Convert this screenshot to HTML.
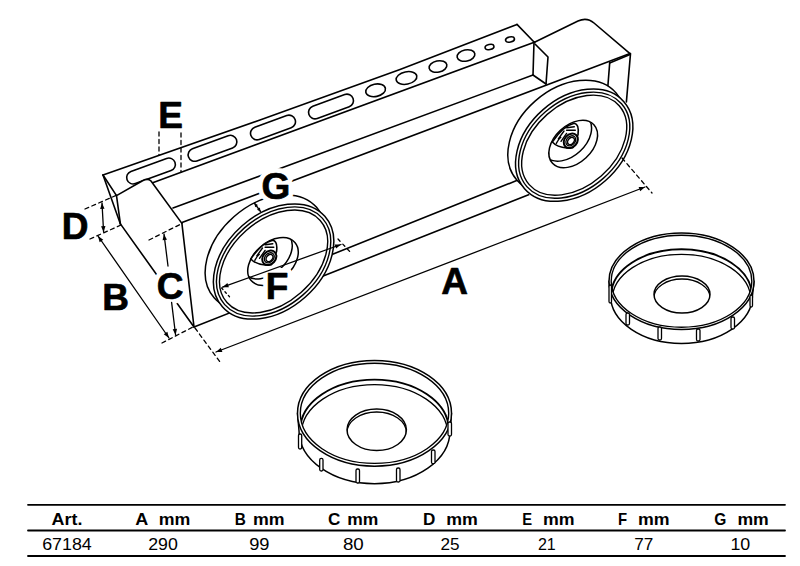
<!DOCTYPE html>
<html><head><meta charset="utf-8"><style>
html,body{margin:0;padding:0;background:#fff;width:800px;height:566px;overflow:hidden}
svg{display:block}
.big{font-family:"Liberation Sans",sans-serif;font-weight:bold;font-size:37px}
.th{font-family:"Liberation Sans",sans-serif;font-weight:bold;font-size:17px}
.td{font-family:"Liberation Sans",sans-serif;font-size:17px}
</style></head><body>
<svg width="800" height="566" viewBox="0 0 800 566" stroke="#000" fill="none" stroke-linecap="round" stroke-linejoin="round">
<rect x="0" y="0" width="800" height="566" fill="#fff" stroke="none"/>
<polyline points="103,175 260,120 400,69.5 517,24.5" stroke-width="1.6" fill="none"/>
<line x1="152" y1="183" x2="535" y2="42" stroke-width="1.6"/>
<line x1="517" y1="24.4" x2="534" y2="42" stroke-width="1.6"/>
<line x1="534" y1="42" x2="533" y2="75" stroke-width="1.6"/>
<line x1="173" y1="208" x2="533" y2="75" stroke-width="1.6"/>
<line x1="533" y1="75" x2="546" y2="84" stroke-width="1.6"/>
<polyline points="535,44 548,57 546,84" stroke-width="1.6" fill="none"/>
<rect x="125.5" y="164.5" width="51" height="13" rx="6.5" ry="6.5" transform="rotate(-20 151 171)" stroke-width="1.6" fill="none"/>
<rect x="187.0" y="141.8" width="51" height="13" rx="6.5" ry="6.5" transform="rotate(-20 212.5 148.3)" stroke-width="1.6" fill="none"/>
<rect x="249.5" y="121.0" width="47" height="13" rx="6.5" ry="6.5" transform="rotate(-20 273 127.5)" stroke-width="1.6" fill="none"/>
<rect x="307.5" y="100.0" width="47" height="13" rx="6.5" ry="6.5" transform="rotate(-20 331 106.5)" stroke-width="1.6" fill="none"/>
<ellipse cx="375.6" cy="90.3" rx="10" ry="6.2" transform="rotate(-12 375.6 90.3)" stroke-width="1.6" fill="none"/>
<ellipse cx="406.5" cy="78" rx="10.5" ry="6.2" transform="rotate(-12 406.5 78)" stroke-width="1.6" fill="none"/>
<ellipse cx="438" cy="66.5" rx="9" ry="5.6" transform="rotate(-12 438 66.5)" stroke-width="1.6" fill="none"/>
<ellipse cx="466" cy="55.5" rx="9" ry="5.6" transform="rotate(-12 466 55.5)" stroke-width="1.6" fill="none"/>
<ellipse cx="489.5" cy="47" rx="4.5" ry="2.6" transform="rotate(-12 489.5 47)" stroke-width="1.6" fill="none"/>
<ellipse cx="510" cy="39.5" rx="4.5" ry="2.6" transform="rotate(-12 510 39.5)" stroke-width="1.6" fill="none"/>
<line x1="103" y1="175" x2="120.4" y2="223.9" stroke-width="1.6"/>
<line x1="103" y1="175" x2="116.5" y2="195.6" stroke-width="1.6"/>
<line x1="116.5" y1="195.6" x2="120.4" y2="223.9" stroke-width="1.6"/>
<path d="M116.5,195.6 L143,180.5 Q148,178 151,181 L181.9,223.4" stroke-width="1.6" fill="#fff"/>
<line x1="181.9" y1="223.4" x2="194" y2="327" stroke-width="1.6"/>
<line x1="120.4" y1="223.9" x2="194" y2="327" stroke-width="1.6"/>
<line x1="182" y1="222.5" x2="630" y2="53.6" stroke-width="1.6"/>
<line x1="194" y1="327" x2="528.6" y2="194.8" stroke-width="1.6"/>
<line x1="320" y1="259.3" x2="517.3" y2="180.3" stroke-width="1.6"/>
<path d="M535,42 L578,21 Q587,17 594,23 L630,53.6" stroke-width="1.6" fill="none"/>
<line x1="630" y1="54.6" x2="609.7" y2="62.9" stroke-width="1.6"/>
<line x1="609.7" y1="62.9" x2="607.8" y2="87" stroke-width="1.6"/>
<line x1="630.5" y1="53.6" x2="626.4" y2="101.9" stroke-width="1.6"/>
<ellipse cx="265.35" cy="252.5" rx="68.3" ry="47.6" transform="rotate(-41.4 265.35 252.5)" stroke-width="1.5" fill="#fff"/>
<ellipse cx="273.6" cy="261.5" rx="68.3" ry="47.6" transform="rotate(-41.4 273.6 261.5)" stroke-width="1.5" fill="#fff"/>
<ellipse cx="273.6" cy="261.5" rx="65.2" ry="44.5" transform="rotate(-41.4 273.6 261.5)" stroke-width="1.4" fill="none"/>
<ellipse cx="273.6" cy="261.5" rx="62.099999999999994" ry="41.4" transform="rotate(-41.4 273.6 261.5)" stroke-width="1.4" fill="none"/>
<ellipse cx="566.45" cy="136.45" rx="66" ry="47.2" transform="rotate(-41.2 566.45 136.45)" stroke-width="1.5" fill="#fff"/>
<ellipse cx="574.2" cy="145.2" rx="66" ry="47.2" transform="rotate(-41.2 574.2 145.2)" stroke-width="1.5" fill="#fff"/>
<ellipse cx="574.2" cy="145.2" rx="62.9" ry="44.1" transform="rotate(-41.2 574.2 145.2)" stroke-width="1.4" fill="none"/>
<ellipse cx="574.2" cy="145.2" rx="59.8" ry="41.0" transform="rotate(-41.2 574.2 145.2)" stroke-width="1.4" fill="none"/>
<clipPath id="hc1"><ellipse cx="273" cy="261.5" rx="29" ry="19.2" transform="rotate(-41 273 261.5)"/></clipPath>
<ellipse cx="273" cy="261.5" rx="29" ry="19.2" transform="rotate(-41 273 261.5)" stroke-width="1.5" fill="none"/>
<g clip-path="url(#hc1)">
<ellipse cx="267" cy="255.0" rx="29" ry="19.2" transform="rotate(-41 267 255.0)" stroke-width="1.5" fill="none"/>
</g>
<path d="M250.80,259.00 C256.30,250.80 263.30,242.30 272.80,240.20 C276.30,240.80 277.30,245.80 276.50,251.80 L271.30,264.80 L265.30,265.00 C260.30,264.60 254.30,262.80 250.80,259.00 Z" stroke-width="1.6" fill="#fff"/>
<path d="M256.80,255.80 L262.50,248.00 M259.50,258.30 L265.10,250.40 M265.30,244.80 L272.80,243.80 M265.10,247.30 L273.80,247.30 M254.80,260.30 Q257.30,255.80 259.30,254.30" stroke-width="1.4"/>
<ellipse cx="269.3" cy="257.8" rx="7.9" ry="6.3" transform="rotate(-48 269.3 257.8)" stroke-width="2.0" fill="#fff"/>
<ellipse cx="269.3" cy="257.8" rx="5.6" ry="4.3" transform="rotate(-48 269.3 257.8)" stroke-width="1.3" fill="none"/>
<ellipse cx="269.5" cy="258.0" rx="4.0" ry="2.9" transform="rotate(-48 269.5 258.0)" stroke-width="1.5" fill="none"/>
<clipPath id="hc2"><ellipse cx="573.2" cy="144" rx="28.3" ry="18.8" transform="rotate(-43 573.2 144)"/></clipPath>
<ellipse cx="573.2" cy="144" rx="28.3" ry="18.8" transform="rotate(-43 573.2 144)" stroke-width="1.5" fill="none"/>
<g clip-path="url(#hc2)">
<ellipse cx="567.2" cy="137.5" rx="28.3" ry="18.8" transform="rotate(-43 567.2 137.5)" stroke-width="1.5" fill="none"/>
</g>
<path d="M552.30,142.00 C557.80,133.80 564.80,125.30 574.30,123.20 C577.80,123.80 578.80,128.80 578.00,134.80 L572.80,147.80 L566.80,148.00 C561.80,147.60 555.80,145.80 552.30,142.00 Z" stroke-width="1.6" fill="#fff"/>
<path d="M558.30,138.80 L564.00,131.00 M561.00,141.30 L566.60,133.40 M566.80,127.80 L574.30,126.80 M566.60,130.30 L575.30,130.30 M556.30,143.30 Q558.80,138.80 560.80,137.30" stroke-width="1.4"/>
<ellipse cx="570.8000000000001" cy="140.8" rx="7.9" ry="6.3" transform="rotate(-48 570.8000000000001 140.8)" stroke-width="2.0" fill="#fff"/>
<ellipse cx="570.8000000000001" cy="140.8" rx="5.6" ry="4.3" transform="rotate(-48 570.8000000000001 140.8)" stroke-width="1.3" fill="none"/>
<ellipse cx="571.0000000000001" cy="141.0" rx="4.0" ry="2.9" transform="rotate(-48 571.0000000000001 141.0)" stroke-width="1.5" fill="none"/>
<path d="M297.5,413.3 L299.0,430.8 A75.5,52.9 0 0 0 450.0,430.8 L451.5,413.3" stroke-width="1.5" fill="#fff"/>
<ellipse cx="374.5" cy="413.3" rx="77" ry="52.9" transform="rotate(0 374.5 413.3)" stroke-width="1.5" fill="#fff"/>
<ellipse cx="374.5" cy="413.3" rx="74.2" ry="50.1" transform="rotate(0 374.5 413.3)" stroke-width="1.4" fill="none"/>
<clipPath id="cc1"><ellipse cx="374.5" cy="413.3" rx="74.2" ry="50.1"/></clipPath>
<g clip-path="url(#cc1)">
<ellipse cx="374.5" cy="429.7" rx="74.2" ry="50.1" transform="rotate(0 374.5 429.7)" stroke-width="1.9" fill="none"/>
<ellipse cx="374.5" cy="434.2" rx="73.2" ry="49.6" transform="rotate(0 374.5 434.2)" stroke-width="1.3" fill="none"/>
</g>
<ellipse cx="376.7" cy="429.8" rx="29.7" ry="20.8" transform="rotate(0 376.7 429.8)" stroke-width="1.5" fill="none"/>
<clipPath id="ch1"><ellipse cx="376.7" cy="429.8" rx="29.7" ry="20.8"/></clipPath>
<g clip-path="url(#ch1)">
<ellipse cx="376.7" cy="432.8" rx="29.7" ry="20.8" transform="rotate(0 376.7 432.8)" stroke-width="1.3" fill="none"/>
</g>
<rect x="319.7" y="458.4" width="3.3000000000000114" height="12.600000000000023" rx="1.5" stroke-width="1.3" fill="#fff"/>
<rect x="356" y="469" width="3.5" height="14" rx="1.5" stroke-width="1.3" fill="#fff"/>
<rect x="396.5" y="468" width="3.5" height="14" rx="1.5" stroke-width="1.3" fill="#fff"/>
<rect x="431.5" y="450" width="3.5" height="13.699999999999989" rx="1.5" stroke-width="1.3" fill="#fff"/>
<rect x="298.5" y="434" width="3.1999999999999886" height="15" rx="1.5" stroke-width="1.3" fill="#fff"/>
<rect x="448" y="422" width="3.5" height="14" rx="1.5" stroke-width="1.3" fill="#fff"/>
<path d="M609.0,281.2 L610.5,295.2 A71.0,48.2 0 0 0 752.5,295.2 L754.0,281.2" stroke-width="1.5" fill="#fff"/>
<ellipse cx="681.5" cy="281.2" rx="72.5" ry="48.2" transform="rotate(0 681.5 281.2)" stroke-width="1.5" fill="#fff"/>
<ellipse cx="681.5" cy="281.2" rx="70.3" ry="46.0" transform="rotate(0 681.5 281.2)" stroke-width="1.4" fill="none"/>
<clipPath id="cc2"><ellipse cx="681.5" cy="281.2" rx="70.3" ry="46.0"/></clipPath>
<g clip-path="url(#cc2)">
<ellipse cx="681.5" cy="295.3" rx="70.3" ry="46.0" transform="rotate(0 681.5 295.3)" stroke-width="1.9" fill="none"/>
<ellipse cx="681.5" cy="299.8" rx="69.3" ry="45.5" transform="rotate(0 681.5 299.8)" stroke-width="1.3" fill="none"/>
</g>
<ellipse cx="682" cy="294.5" rx="28" ry="18.5" transform="rotate(0 682 294.5)" stroke-width="1.5" fill="none"/>
<clipPath id="ch2"><ellipse cx="682" cy="294.5" rx="28" ry="18.5"/></clipPath>
<g clip-path="url(#ch2)">
<ellipse cx="682" cy="297.5" rx="28" ry="18.5" transform="rotate(0 682 297.5)" stroke-width="1.3" fill="none"/>
</g>
<rect x="626" y="313" width="3.5" height="12" rx="1.5" stroke-width="1.3" fill="#fff"/>
<rect x="658" y="327" width="3.5" height="13" rx="1.5" stroke-width="1.3" fill="#fff"/>
<rect x="696.5" y="329" width="3.5" height="12" rx="1.5" stroke-width="1.3" fill="#fff"/>
<rect x="731" y="317" width="3.5" height="12" rx="1.5" stroke-width="1.3" fill="#fff"/>
<rect x="609" y="285" width="2.5" height="18" rx="1.5" stroke-width="1.3" fill="#fff"/>
<rect x="750" y="295" width="2.5" height="12" rx="1.5" stroke-width="1.3" fill="#fff"/>
<text x="75" y="239" text-anchor="middle" class="big" stroke="#fff" stroke-width="10" fill="#fff">D</text>
<text x="170.5" y="127.6" text-anchor="middle" class="big" stroke="#fff" stroke-width="10" fill="#fff">E</text>
<text x="115.7" y="309.6" text-anchor="middle" class="big" stroke="#fff" stroke-width="10" fill="#fff">B</text>
<text x="170.2" y="299" text-anchor="middle" class="big" stroke="#fff" stroke-width="10" fill="#fff">C</text>
<text x="454.7" y="293.6" text-anchor="middle" class="big" stroke="#fff" stroke-width="10" fill="#fff">A</text>
<text x="277" y="298.5" text-anchor="middle" class="big" stroke="#fff" stroke-width="10" fill="#fff">F</text>
<text x="275.9" y="198.5" text-anchor="middle" class="big" stroke="#fff" stroke-width="10" fill="#fff">G</text>
<text x="75" y="239" text-anchor="middle" class="big" stroke="#000" stroke-width="0.7" fill="#000">D</text>
<text x="170.5" y="127.6" text-anchor="middle" class="big" stroke="#000" stroke-width="0.7" fill="#000">E</text>
<text x="115.7" y="309.6" text-anchor="middle" class="big" stroke="#000" stroke-width="0.7" fill="#000">B</text>
<text x="170.2" y="299" text-anchor="middle" class="big" stroke="#000" stroke-width="0.7" fill="#000">C</text>
<text x="454.7" y="293.6" text-anchor="middle" class="big" stroke="#000" stroke-width="0.7" fill="#000">A</text>
<text x="277" y="298.5" text-anchor="middle" class="big" stroke="#000" stroke-width="0.7" fill="#000">F</text>
<text x="275.9" y="198.5" text-anchor="middle" class="big" stroke="#000" stroke-width="0.7" fill="#000">G</text>
<line x1="85" y1="209" x2="117" y2="195" stroke-width="1.3" stroke-dasharray="4 3.5"/>
<line x1="90" y1="239" x2="121" y2="225" stroke-width="1.3" stroke-dasharray="4 3.5"/>
<line x1="102" y1="203" x2="103.6" y2="232" stroke-width="1.3"/>
<polygon points="103.60,232.00 101.07,226.13 105.47,225.89" fill="#000" stroke="none"/>
<polygon points="102.00,203.00 104.53,208.87 100.13,209.11" fill="#000" stroke="none"/>
<line x1="98" y1="236" x2="169" y2="338" stroke-width="1.3"/>
<polygon points="169.00,338.00 163.77,334.33 167.38,331.82" fill="#000" stroke="none"/>
<polygon points="98.00,236.00 103.23,239.67 99.62,242.18" fill="#000" stroke="none"/>
<line x1="162" y1="343" x2="193" y2="327" stroke-width="1.3" stroke-dasharray="4 3.5"/>
<line x1="149" y1="240" x2="181" y2="224" stroke-width="1.3" stroke-dasharray="4 3.5"/>
<line x1="164" y1="234" x2="168" y2="266" stroke-width="1.3"/>
<polygon points="164.00,234.00 166.93,239.68 162.56,240.23" fill="#000" stroke="none"/>
<line x1="171.6" y1="302.4" x2="175.6" y2="335" stroke-width="1.3"/>
<polygon points="175.60,335.00 172.69,329.31 177.05,328.78" fill="#000" stroke="none"/>
<line x1="195" y1="328" x2="220" y2="362" stroke-width="1.3" stroke-dasharray="4 3.5"/>
<line x1="216" y1="352" x2="645" y2="187" stroke-width="1.3"/>
<polygon points="645.00,187.00 640.19,191.21 638.61,187.10" fill="#000" stroke="none"/>
<polygon points="216.00,352.00 220.81,347.79 222.39,351.90" fill="#000" stroke="none"/>
<line x1="622" y1="158" x2="652" y2="193" stroke-width="1.3" stroke-dasharray="4 3.5"/>
<line x1="159" y1="132" x2="159" y2="155" stroke-width="1.3" stroke-dasharray="4 3.5"/>
<line x1="181" y1="133" x2="181" y2="172" stroke-width="1.3" stroke-dasharray="4 3.5"/>
<line x1="222.5" y1="287.2" x2="341" y2="244.5" stroke-width="1.3"/>
<polygon points="341.00,244.50 336.10,248.60 334.61,244.46" fill="#000" stroke="none"/>
<polygon points="222.50,287.20 227.40,283.10 228.89,287.24" fill="#000" stroke="none"/>
<line x1="221.6" y1="288" x2="229.5" y2="296.75" stroke-width="1.3" stroke-dasharray="2 3"/>
<line x1="338" y1="239" x2="352" y2="254" stroke-width="1.3" stroke-dasharray="3 4"/>
<line x1="254.5" y1="203.25" x2="260.5" y2="211.5" stroke-width="1.3"/>
<polygon points="260.50,211.50 256.99,209.73 259.90,207.61" fill="#000" stroke="none"/>
<polygon points="254.50,203.25 258.01,205.02 255.10,207.14" fill="#000" stroke="none"/>
<line x1="28" y1="504.8" x2="785" y2="504.8" stroke-width="1.8"/>
<line x1="28" y1="530.5" x2="785" y2="530.5" stroke-width="1.8"/>
<line x1="28" y1="556" x2="785" y2="556" stroke-width="1.8"/>
<text x="51.60" y="525" textLength="30.80" lengthAdjust="spacingAndGlyphs" class="th" stroke="none" fill="#000">Art.</text>
<text x="135.20" y="525" textLength="13.00" lengthAdjust="spacingAndGlyphs" class="th" stroke="none" fill="#000">A</text>
<text x="158.80" y="525" textLength="31.60" lengthAdjust="spacingAndGlyphs" class="th" stroke="none" fill="#000">mm</text>
<text x="234.70" y="525" textLength="11.10" lengthAdjust="spacingAndGlyphs" class="th" stroke="none" fill="#000">B</text>
<text x="252.95" y="525" textLength="31.60" lengthAdjust="spacingAndGlyphs" class="th" stroke="none" fill="#000">mm</text>
<text x="327.95" y="525" textLength="12.35" lengthAdjust="spacingAndGlyphs" class="th" stroke="none" fill="#000">C</text>
<text x="347.20" y="525" textLength="31.10" lengthAdjust="spacingAndGlyphs" class="th" stroke="none" fill="#000">mm</text>
<text x="422.95" y="525" textLength="12.35" lengthAdjust="spacingAndGlyphs" class="th" stroke="none" fill="#000">D</text>
<text x="446.20" y="525" textLength="31.60" lengthAdjust="spacingAndGlyphs" class="th" stroke="none" fill="#000">mm</text>
<text x="522.20" y="525" textLength="9.85" lengthAdjust="spacingAndGlyphs" class="th" stroke="none" fill="#000">E</text>
<text x="542.95" y="525" textLength="31.60" lengthAdjust="spacingAndGlyphs" class="th" stroke="none" fill="#000">mm</text>
<text x="617.95" y="525" textLength="9.10" lengthAdjust="spacingAndGlyphs" class="th" stroke="none" fill="#000">F</text>
<text x="637.95" y="525" textLength="31.60" lengthAdjust="spacingAndGlyphs" class="th" stroke="none" fill="#000">mm</text>
<text x="714.20" y="525" textLength="12.10" lengthAdjust="spacingAndGlyphs" class="th" stroke="none" fill="#000">G</text>
<text x="737.45" y="525" textLength="31.35" lengthAdjust="spacingAndGlyphs" class="th" stroke="none" fill="#000">mm</text>
<text x="42.20" y="550" textLength="49.60" lengthAdjust="spacingAndGlyphs" class="td" stroke="none" fill="#000">67184</text>
<text x="148.20" y="550" textLength="29.60" lengthAdjust="spacingAndGlyphs" class="td" stroke="none" fill="#000">290</text>
<text x="249.20" y="550" textLength="20.35" lengthAdjust="spacingAndGlyphs" class="td" stroke="none" fill="#000">99</text>
<text x="342.95" y="550" textLength="20.85" lengthAdjust="spacingAndGlyphs" class="td" stroke="none" fill="#000">80</text>
<text x="440.45" y="550" textLength="19.10" lengthAdjust="spacingAndGlyphs" class="td" stroke="none" fill="#000">25</text>
<text x="537.95" y="550" textLength="17.85" lengthAdjust="spacingAndGlyphs" class="td" stroke="none" fill="#000">21</text>
<text x="634.20" y="550" textLength="19.10" lengthAdjust="spacingAndGlyphs" class="td" stroke="none" fill="#000">77</text>
<text x="730.45" y="550" textLength="19.85" lengthAdjust="spacingAndGlyphs" class="td" stroke="none" fill="#000">10</text>
</svg></body></html>
